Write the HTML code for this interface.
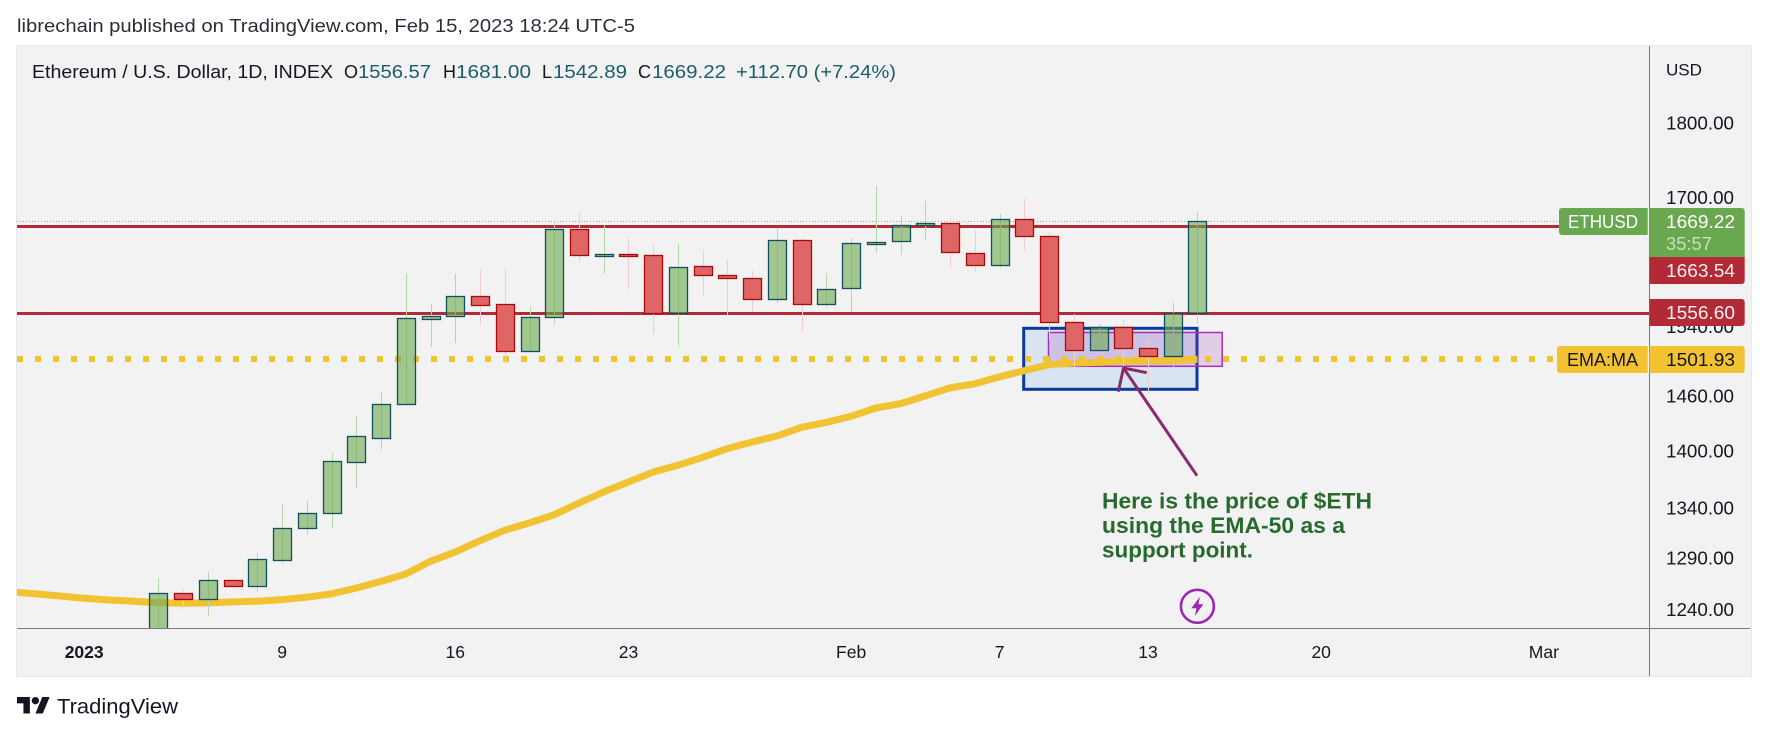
<!DOCTYPE html>
<html lang="en">
<head>
<meta charset="utf-8">
<title>Ethereum / U.S. Dollar chart</title>
<style>
html,body{margin:0;padding:0;background:#fff;width:1768px;height:736px;overflow:hidden}
svg{display:block;font-family:"Liberation Sans",Arial,sans-serif}
</style>
</head>
<body>
<svg id="chart" xmlns="http://www.w3.org/2000/svg" width="1768" height="736" viewBox="0 0 1768 736">
  <defs>
    <clipPath id="plot-clip"><rect x="17" y="47" width="1632.5" height="581"></rect></clipPath>
  </defs>
  <rect x="0" y="0" width="1768" height="736" fill="#ffffff"></rect>
  <text x="17" y="32" font-size="18" fill="#2a2e39" textLength="618" lengthAdjust="spacingAndGlyphs">librechain published on TradingView.com, Feb 15, 2023 18:24 UTC-5</text>
  <rect x="16.5" y="45.5" width="1735" height="631" fill="#f2f2f2" stroke="#e8e8ee" stroke-width="1"></rect>

  <g id="plot" clip-path="url(#plot-clip)">
    <rect x="1023.7" y="328.3" width="173.3" height="61" fill="#d8e4ef" stroke="#0b3a9b" stroke-width="3"></rect>
    <rect x="1048.5" y="332.5" width="173.7" height="33.8" fill="#a33cbe" fill-opacity="0.2" stroke="#a92ebb" stroke-width="1.5"></rect>
    <g id="levels"></g>
    <g id="ema"></g>
    <g id="candles"></g>
  </g>

  <g fill="none" stroke="#8b2a6b" stroke-width="3">
    <line x1="1197" y1="475.7" x2="1123.5" y2="368"></line>
    <polyline points="1118.3,391.7 1123.5,368 1146.7,372.7"></polyline>
  </g>
  <g font-size="22.5" font-weight="bold" fill="#276a2d">
    <text x="1102" y="508.5" textLength="270" lengthAdjust="spacingAndGlyphs">Here is the price of $ETH</text>
    <text x="1102" y="533" textLength="243" lengthAdjust="spacingAndGlyphs">using the EMA-50 as a</text>
    <text x="1102" y="557.5" textLength="151" lengthAdjust="spacingAndGlyphs">support point.</text>
  </g>
  <g transform="translate(1197.4 606.3)">
    <circle r="18.3" fill="#ffffff"></circle>
    <circle r="16.5" fill="#f2f2f2" stroke="#9c27b0" stroke-width="2.6"></circle>
    <polygon points="2.5,-9.5 -6,2 -1,2 -2.5,9.5 6,-2 1,-2" fill="#9c27b0"></polygon>
  </g>

  <g font-size="18">
    <text x="32" y="78" fill="#131722" textLength="301" lengthAdjust="spacingAndGlyphs">Ethereum / U.S. Dollar, 1D, INDEX</text>
    <text x="344" y="78" fill="#131722">O</text>
    <text x="358" y="78" fill="#1b5e68" textLength="73" lengthAdjust="spacingAndGlyphs">1556.57</text>
    <text x="443" y="78" fill="#131722">H</text>
    <text x="456" y="78" fill="#1b5e68" textLength="75" lengthAdjust="spacingAndGlyphs">1681.00</text>
    <text x="542" y="78" fill="#131722">L</text>
    <text x="553" y="78" fill="#1b5e68" textLength="74" lengthAdjust="spacingAndGlyphs">1542.89</text>
    <text x="638" y="78" fill="#131722">C</text>
    <text x="652" y="78" fill="#1b5e68" textLength="74" lengthAdjust="spacingAndGlyphs">1669.22</text>
    <text x="736" y="78" fill="#1b5e68" textLength="160" lengthAdjust="spacingAndGlyphs">+112.70 (+7.24%)</text>
  </g>

  <line x1="1649.5" y1="46" x2="1649.5" y2="676" stroke="#7a7a7a" stroke-width="1"></line>
  <line x1="17" y1="628.5" x2="1750" y2="628.5" stroke="#7a7a7a" stroke-width="1"></line>
  <text x="1666" y="75.5" font-size="17" fill="#131722" textLength="36" lengthAdjust="spacingAndGlyphs">USD</text>
  <g id="y-ticks"></g>
  <g id="x-ticks"></g>

  <g>
    <path d="M1647.7 208H1562a3 3 0 0 0-3 3V232a3 3 0 0 0 3 3H1647.7Z" fill="#6aa84f"></path>
    <text x="1568" y="228" font-size="18" fill="#ffffff" textLength="70" lengthAdjust="spacingAndGlyphs">ETHUSD</text>
  </g>
  <g>
    <path d="M1649.5 208H1741.7a3 3 0 0 1 3 3V257H1649.5Z" fill="#6aa84f"></path>
    <text x="1666" y="228" font-size="18" fill="#ffffff" textLength="69" lengthAdjust="spacingAndGlyphs">1669.22</text>
    <text x="1666" y="250" font-size="18" fill="#c6e0ba" textLength="46" lengthAdjust="spacingAndGlyphs">35:57</text>
  </g>
  <g>
    <path d="M1649.5 257H1744.7V281a3 3 0 0 1-3 3H1649.5Z" fill="#b22a35"></path>
    <text x="1666" y="277" font-size="18" fill="#ffffff" fill-opacity="0.92" textLength="69" lengthAdjust="spacingAndGlyphs">1663.54</text>
  </g>
  <g>
    <path d="M1649.5 299H1741.7a3 3 0 0 1 3 3V323a3 3 0 0 1-3 3H1649.5Z" fill="#b22a35"></path>
    <text x="1666" y="319" font-size="18" fill="#ffffff" fill-opacity="0.92" textLength="69" lengthAdjust="spacingAndGlyphs">1556.60</text>
  </g>
  <g>
    <path d="M1647.7 346H1560a3 3 0 0 0-3 3V370a3 3 0 0 0 3 3H1647.7Z" fill="#f2c230"></path>
    <text x="1567" y="366" font-size="18" fill="#131722" textLength="71" lengthAdjust="spacingAndGlyphs">EMA:MA</text>
  </g>
  <g>
    <path d="M1649.5 346H1741.7a3 3 0 0 1 3 3V370a3 3 0 0 1-3 3H1649.5Z" fill="#f2c230"></path>
    <text x="1666" y="366" font-size="18" fill="#131722" textLength="69" lengthAdjust="spacingAndGlyphs">1501.93</text>
  </g>

  <g>
    <g transform="translate(17 693.3) scale(0.92)" fill="#131722">
      <path d="M14 22H7V11H0V4h14v18zM28 22h-8l7.5-18h8L28 22z"></path>
      <circle cx="20" cy="8" r="4"></circle>
    </g>
    <text x="57" y="713.5" font-size="21" fill="#131722" textLength="121" lengthAdjust="spacingAndGlyphs">TradingView</text>
  </g>
</svg>

<script>
const categories = ['Jan 4','Jan 5','Jan 6','Jan 7','Jan 8','Jan 9','Jan 10','Jan 11','Jan 12','Jan 13','Jan 14','Jan 15','Jan 16','Jan 17','Jan 18','Jan 19','Jan 20','Jan 21','Jan 22','Jan 23','Jan 24','Jan 25','Jan 26','Jan 27','Jan 28','Jan 29','Jan 30','Jan 31','Feb 1','Feb 2','Feb 3','Feb 4','Feb 5','Feb 6','Feb 7','Feb 8','Feb 9','Feb 10','Feb 11','Feb 12','Feb 13','Feb 14','Feb 15'];
const opens = [1211.4,1255.5,1249.8,1268,1262.8,1288.2,1319.8,1334.8,1388,1414.3,1451,1549.2,1552,1576.1,1566.4,1511.2,1550.8,1659.1,1625.9,1627.6,1626.4,1555.6,1612.7,1601.6,1597.9,1572.4,1645.1,1566.4,1585.6,1640.9,1643.9,1664.1,1666.7,1628.9,1614,1671.8,1650.2,1545,1513.1,1539.2,1514.5,1506,1556.57];
const highs = [1270.2,1258.4,1276.1,1270.2,1294.6,1344.3,1347.5,1397.9,1438,1464.8,1603.7,1566.8,1603.7,1608,1610.5,1564.4,1670,1679.9,1664.6,1648,1641.7,1640.5,1633,1621.4,1607,1660.8,1647.6,1603.7,1648,1715,1676,1695.4,1673.4,1658.2,1678.6,1697.6,1655.7,1554.8,1543,1547.7,1525.4,1568.7,1681];
const lows = [1200,1240.8,1234.2,1259.9,1257,1285,1313.2,1320,1360.3,1401.5,1449.5,1516.4,1521,1541,1495.8,1511.2,1542,1618.4,1603.7,1585,1530,1516.4,1577.6,1553.7,1557.6,1568.3,1534,1562.3,1557.6,1629,1627,1645.5,1611,1606,1611,1632,1524.2,1492.8,1504.9,1493.5,1462.6,1491.7,1542.89];
const closes = [1255.5,1249.8,1268,1262.8,1288.6,1319.8,1334.8,1389,1415.9,1451,1549.7,1552,1576.1,1565.2,1511.2,1550.8,1659.1,1626.4,1627.6,1625.9,1555.6,1611.5,1601.6,1597.9,1572.4,1645.1,1566.4,1585.1,1641.4,1642.6,1664.1,1666.7,1630.2,1614,1671.8,1650.2,1544.8,1513.1,1539.2,1515.2,1506,1556.57,1669.22];
const emaFirstIndex = -6;
const emaValues = [1256.8,1255.1,1252.9,1250.7,1249.1,1247.9,1246.5,1246,1246.3,1247.2,1247.9,1249.4,1251.7,1254.9,1260.6,1267,1274.2,1286.6,1295.8,1307.1,1317.6,1325,1333.4,1345.4,1356.8,1367.2,1377.7,1384.8,1393.3,1402.6,1409.7,1416.2,1425.6,1431.1,1437.7,1446.9,1451.7,1460.3,1469.4,1473.9,1481.9,1488.8,1495.7,1497.6,1498.3,1499.5,1500,1500.3,1501.93];
const resistanceLevel = 1663.54;
const supportLevel = 1556.6;
const emaLevel = 1501.93;
const lastClose = 1669.22;
const priceTicks = [1800,1700,1540,1460,1400,1340,1290,1240];
const timeTickLabels = ['2023','9','16','23','Feb','7','13','20','Mar'];
const timeTickIndex = [-3,5,12,19,28,34,40,47,56];

const SVGNS = 'http://www.w3.org/2000/svg';
function xScale(i) { return 158.4 + i * 24.74; }
function yScale(p) { return 221.3 + (Math.log(lastClose) - Math.log(p)) * 1306; }
function snap(v) { return Math.ceil(v - 0.5) + 0.5; }
function make(tag, parent, attrs) {
  const el = document.createElementNS(SVGNS, tag);
  for (const k in attrs) el.setAttribute(k, attrs[k]);
  parent.appendChild(el);
  return el;
}

const levelsG = document.getElementById('levels');
const emaG = document.getElementById('ema');
const candlesG = document.getElementById('candles');
const yTicksG = document.getElementById('y-ticks');
const xTicksG = document.getElementById('x-ticks');

const lastLine = make('line', levelsG, {x1: 17, x2: 1559, y1: snap(yScale(lastClose)), y2: snap(yScale(lastClose)), stroke: '#93c47d', 'stroke-width': 1, 'stroke-dasharray': '1 2'});



const resLine = make('line', levelsG, {x1: 17, x2: 1559, y1: snap(yScale(resistanceLevel)), y2: snap(yScale(resistanceLevel)), stroke: '#b02a37', 'stroke-width': 3});



const supLine = make('line', levelsG, {x1: 17, x2: 1649, y1: snap(yScale(supportLevel)), y2: snap(yScale(supportLevel)), stroke: '#b02a37', 'stroke-width': 3});



const emaDots = make('line', emaG, {x1: 17, x2: 1557, y1: Math.round(yScale(emaLevel)), y2: Math.round(yScale(emaLevel)), stroke: '#f1c232', 'stroke-width': 6, 'stroke-dasharray': '6 12'});



const emaPoints = emaValues.map(function (v, i) {
  return xScale(i + emaFirstIndex).toFixed(1) + ',' + yScale(v).toFixed(1);
}).join(' ');
const emaLine = make('polyline', emaG, {points: emaPoints, fill: 'none', stroke: '#f1c232', 'stroke-width': 7, 'stroke-linejoin': 'round'});



categories.forEach(function (day, i) {
  const up = closes[i] >= opens[i];
  const cx = Math.round(xScale(i)) + 0.5;
  const wick = make('line', candlesG, {x1: cx, x2: cx, y1: yScale(highs[i]), y2: yScale(lows[i]), stroke: up ? '#b6d7a8' : '#f4cccc', 'stroke-width': 1});
  
  
  const top = snap(yScale(Math.max(opens[i], closes[i])));
  const bottom = snap(yScale(Math.min(opens[i], closes[i])));
  const body = make('rect', candlesG, {
    x: cx - 9, y: top, width: 18, height: Math.max(bottom - top, 1),
    fill: up ? '#6aa84f' : '#e06666', 'fill-opacity': up ? 0.6 : 1,
    stroke: up ? '#134f5c' : '#a60a0a', 'stroke-width': 1.3
  });
  
  
  const tip = make('title', body, {});
  tip.textContent = day;
});

priceTicks.forEach(function (p) {
  const t = make('text', yTicksG, {x: 1666, y: yScale(p) + 6.5, 'font-size': 18, fill: '#131722', textLength: 68, lengthAdjust: 'spacingAndGlyphs'});
  
  
  t.textContent = p.toFixed(2);
});

timeTickLabels.forEach(function (label, k) {
  const t = make('text', xTicksG, {x: xScale(timeTickIndex[k]), y: 658, 'font-size': 17.5, fill: '#131722', 'text-anchor': 'middle', 'font-weight': label === '2023' ? 'bold' : 'normal'});
  
  
  t.textContent = label;
});
</script>
</body>
</html>
